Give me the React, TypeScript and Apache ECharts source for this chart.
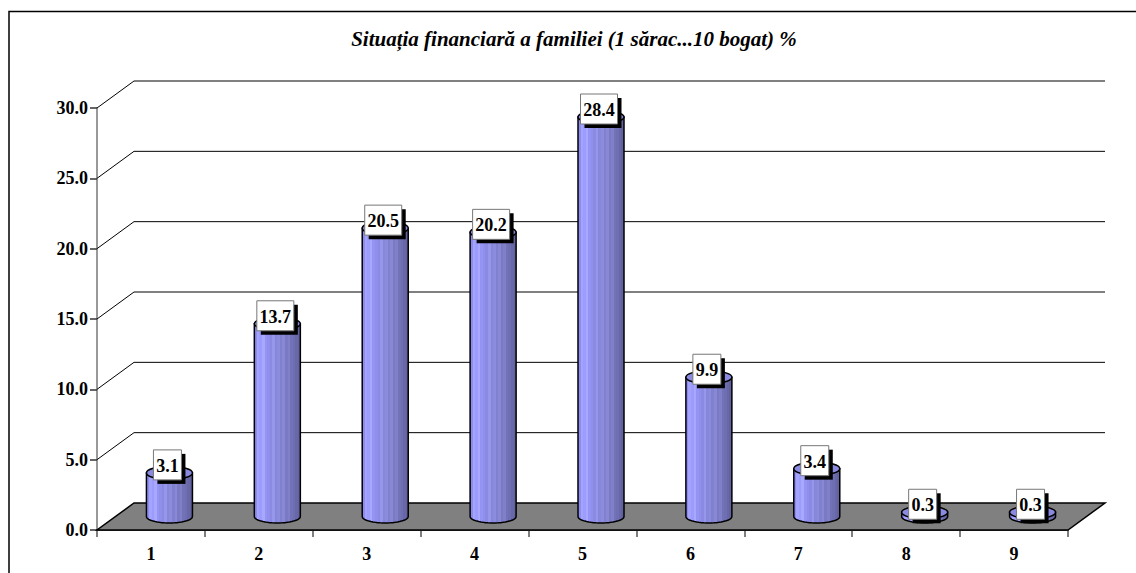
import React, { useEffect, useRef } from "react";
import * as echarts from "echarts";

const categories = ["1", "2", "3", "4", "5", "6", "7", "8", "9"];
const values = [3.1, 13.7, 20.5, 20.2, 28.4, 9.9, 3.4, 0.3, 0.3];
const gridTicks = [5, 10, 15, 20, 25, 30];
const titleText = "Situația financiară a familiei (1 sărac...10 bogat) %";

const FONT = '"Liberation Serif", "Times New Roman", serif';
const DX = 37;
const DY = -27;
const RX = 23;
const RY = 6.5;

const stripeColors = [
  "#8c8cf0", "#a4a4ff", "#9c9cff", "#a8a8ff", "#9494f4", "#9090ec", "#8a8ae2", "#9696ea",
  "#8686da", "#8c8cdc", "#8080d0", "#8888d4", "#7a7ac4", "#8080c8", "#7272b8", "#6e6eb2", "#6868a8", "#62629e",
];
const stripeGradient = () => {
  const stops: { offset: number; color: string }[] = [];
  stripeColors.forEach((color, i) => {
    stops.push({ offset: i / stripeColors.length, color });
    stops.push({ offset: (i + 1) / stripeColors.length, color });
  });
  return new echarts.graphic.LinearGradient(0, 0, 1, 0, stops);
};

export default function App() {
  const ref = useRef<HTMLDivElement>(null);

  useEffect(() => {
    const chart = echarts.init(ref.current!, null, { renderer: "svg" });
    chart.setOption({
      animation: false,
      backgroundColor: "#ffffff",
      title: {
        text: titleText,
        left: 569,
        top: 23,
        textAlign: "center",
        textStyle: { fontFamily: FONT, fontSize: 21, fontWeight: "bold", fontStyle: "italic", color: "#000" },
      },
      graphic: [
        {
          type: "polyline",
          silent: true,
          shape: { points: [[9, 573], [9, 11.5], [1136, 11.5]] },
          style: { stroke: "#000", lineWidth: 1.5, fill: "none" },
        },
      ],
      grid: { left: 97, right: 68, top: 108, bottom: 43 },
      xAxis: {
        type: "category",
        data: categories,
        boundaryGap: true,
        axisLine: { lineStyle: { color: "#444", width: 2 } },
        axisTick: { show: true, length: 7, lineStyle: { color: "#555", width: 1.5 } },
        axisLabel: { fontFamily: FONT, fontSize: 18, fontWeight: "bold", color: "#000", margin: 15 },
      },
      yAxis: {
        type: "value",
        min: 0,
        max: 30,
        interval: 5,
        splitLine: { show: false },
        axisLine: { show: true, lineStyle: { color: "#777", width: 1.5 } },
        axisTick: { show: true, length: 7, lineStyle: { color: "#333", width: 1.5 } },
        axisLabel: {
          fontFamily: FONT,
          fontSize: 18,
          fontWeight: "bold",
          color: "#000",
          margin: 9,
          formatter: (v: number) => v.toFixed(1),
        },
      },
      series: [
        {
          type: "custom",
          name: "grid",
          coordinateSystem: "cartesian2d",
          silent: true,
          z: 1,
          clip: false,
          data: gridTicks.map((v) => [0, v]),
          encode: { x: 0, y: 1 },
          renderItem: (params: any, api: any) => {
            const cs = params.coordSys;
            const y = api.coord([0, api.value(1)])[1];
            return {
              type: "polyline",
              shape: {
                points: [
                  [cs.x, y],
                  [cs.x + DX, y + DY],
                  [cs.x + cs.width + DX, y + DY],
                ],
              },
              style: { stroke: "#000", lineWidth: 1, fill: "none" },
            };
          },
        },
        {
          type: "custom",
          name: "floor",
          coordinateSystem: "cartesian2d",
          silent: true,
          z: 2,
          clip: false,
          data: [[0, 0]],
          encode: { x: 0, y: 1 },
          renderItem: (params: any, api: any) => {
            const cs = params.coordSys;
            const y = api.coord([0, 0])[1];
            return {
              type: "polygon",
              shape: {
                points: [
                  [cs.x, y],
                  [cs.x + cs.width, y],
                  [cs.x + cs.width + DX, y + DY],
                  [cs.x + DX, y + DY],
                ],
              },
              style: { fill: "#808080", stroke: "#000", lineWidth: 1.5 },
            };
          },
        },
        {
          type: "custom",
          name: "cylinders",
          coordinateSystem: "cartesian2d",
          z: 3,
          clip: false,
          data: values.map((v, i) => [i, v]),
          encode: { x: 0, y: 1 },
          renderItem: (_params: any, api: any) => {
            const [px, py0] = api.coord([api.value(0), 0]);
            const [, pyT] = api.coord([api.value(0), api.value(1)]);
            const cx = px + DX / 2;
            const bot = py0 + DY / 2;
            const top = pyT + DY / 2;
            const pts: number[][] = [[cx - RX, top]];
            for (let k = 0; k <= 28; k++) {
              const a = Math.PI - (Math.PI * k) / 28;
              pts.push([cx + RX * Math.cos(a), bot + RY * Math.sin(a)]);
            }
            pts.push([cx + RX, top]);
            return {
              type: "group",
              children: [
                {
                  type: "polygon",
                  shape: { points: pts },
                  style: { fill: stripeGradient(), stroke: "#000", lineWidth: 1.5 },
                },
                {
                  type: "ellipse",
                  shape: { cx, cy: top, rx: RX, ry: RY },
                  style: { fill: "#8a8ae0", stroke: "#000", lineWidth: 1.5 },
                },
              ],
            };
          },
        },
        {
          type: "custom",
          name: "labels",
          coordinateSystem: "cartesian2d",
          z: 4,
          clip: false,
          data: values.map((v, i) => [i, v]),
          encode: { x: 0, y: 1 },
          renderItem: (_params: any, api: any) => {
            const [px] = api.coord([api.value(0), 0]);
            const [, pyT] = api.coord([api.value(0), api.value(1)]);
            const text = api.value(1).toFixed(1);
            const w = text.length > 3 ? 37 : 28;
            const h = 30;
            const cx = px + DX / 2 - 2;
            const cy = pyT + DY / 2 - 8;
            return {
              type: "group",
              children: [
                {
                  type: "rect",
                  shape: { x: cx - w / 2 + 4, y: cy - h / 2 + 4, width: w, height: h },
                  style: { fill: "#000" },
                },
                {
                  type: "rect",
                  shape: { x: cx - w / 2, y: cy - h / 2, width: w, height: h },
                  style: { fill: "#fff", stroke: "#777", lineWidth: 1 },
                },
                {
                  type: "text",
                  style: {
                    x: cx,
                    y: cy + 1,
                    text,
                    fill: "#000",
                    font: `bold 18px ${FONT}`,
                    align: "center",
                    verticalAlign: "middle",
                  },
                },
              ],
            };
          },
        },
      ],
    });
    return () => chart.dispose();
  }, []);

  return <div ref={ref} style={{ position: "absolute", left: 0, top: 0, width: 1136, height: 573 }} />;
}
